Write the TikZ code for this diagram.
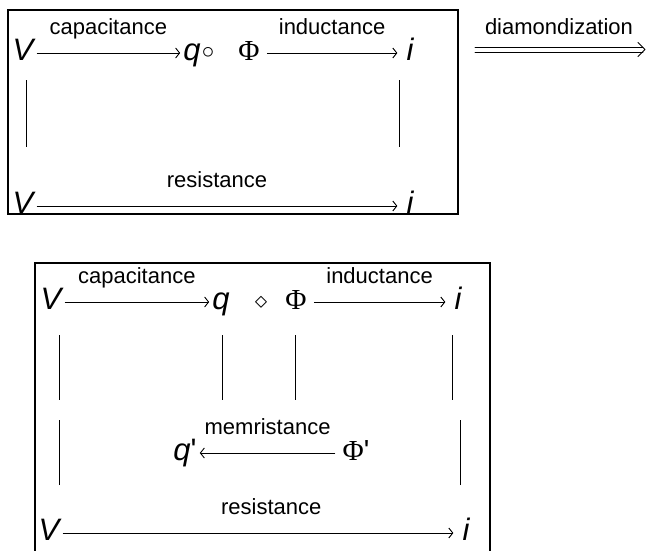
\documentclass[tikz,border=0pt]{standalone}
\usepackage{fontspec}
\setmainfont{Liberation Sans}
\newfontfamily\phifont{Liberation Serif}
\usetikzlibrary{arrows.meta}
\begin{document}
\begin{tikzpicture}[x=1pt,y=-1pt,
	sym/.style={inner xsep=3pt,inner ysep=0pt,font=\fontsize{31}{33}\selectfont\itshape,text height=22pt,text depth=7pt},
	phi/.style={sym,inner xsep=7pt,font=\fontsize{29}{31}\selectfont\phifont},
	op/.style={inner sep=0pt,font=\fontsize{28}{30}\selectfont},
	lbl/.style={font=\fontsize{22}{24}\selectfont,inner sep=0pt,text height=16pt,text depth=5pt,above=13pt},
	map/.style={line width=0.9pt,-{Straight Barb[length=4pt,width=10pt]}},
	dbl/.style={line width=0.9pt,line cap=round,line join=round},
	frame/.style={line width=2.2pt},
	bar/.style={line width=0.9pt}]
	
	\useasboundingbox (0,0) rectangle (646,550);
	
	\draw[frame] (8,10) rectangle (458,214);
	\node[sym] (Vt) at (23,53) {V};
	\node[sym] (qt) at (192,53) {q};
	\node[op] (ot) at (208,53) {$\circ$};
	\node[phi] (Pt) at (249,53) {Φ};
	\node[sym,inner xsep=9pt] (it) at (410,53) {i};
	\node[sym] (Vb) at (23,206) {V};
	\node[sym,inner xsep=9pt] (ib) at (410,206) {i};
	\draw[map] (Vt) -- node[lbl]{capacitance} (qt);
	\draw[map] (Pt) -- node[lbl]{inductance} (it);
	\draw[map] (Vb) -- node[lbl]{resistance} (ib);
	\foreach \n/\dx in {Vt/3,it/-11}
	\draw[bar] ([xshift=\dx pt]\n.center) ++(0,27) -- ++(0,67);
	
	\coordinate (dl) at (475,49.5);
	\coordinate (dr) at (643,49.5);
	\draw[dbl] ([yshift=2.5pt]dl) -- node[lbl,yshift=-6pt]{diamondization} ([yshift=2.5pt]dr);
	\draw[dbl] ([yshift=-2.5pt]dl) -- ([yshift=-2.5pt]dr);
	\draw[dbl] ([xshift=-5pt,yshift=7pt]dr) -- ([xshift=2pt]dr) -- ([xshift=-5pt,yshift=-7pt]dr);
	
	\draw[frame] (35,553) -- (35,263) -- (490,263) -- (490,553);
	\node[sym] (V2) at (51,302) {V};
	\node[sym] (q2) at (221,302) {q};
	\node[op] (d2) at (261,303) {$\diamond$};
	\node[phi] (P2) at (296,302) {Φ};
	\node[sym,inner xsep=9pt] (i2) at (458,302) {i};
	\node[sym] (qp) at (185,453) {q\textup{\textquotesingle}};
	\node[phi] (Pp) at (356,453) {Φ{\normalfont\textquotesingle}};
	\node[sym] (V3) at (49,533) {V};
	\node[sym,inner xsep=9pt] (i3) at (466,533) {i};
	\draw[map] (V2) -- node[lbl]{capacitance} (q2);
	\draw[map] (P2) -- node[lbl]{inductance} (i2);
	\draw[map] (Pp) -- node[lbl]{memristance} (qp);
	\draw[map] (V3) -- node[lbl,pos=0.534]{resistance} (i3);
	\foreach \n/\dx in {V2/8,q2/1,P2/-1,i2/-6}
	\draw[bar] ([xshift=\dx pt]\n.center) ++(0,33) -- ++(0,65);
	\foreach \n/\dx in {V3/10,i3/-6}
	\draw[bar] ([xshift=\dx pt]\n.center) ++(0,-48) -- ++(0,-65);
\end{tikzpicture}
\end{document}
